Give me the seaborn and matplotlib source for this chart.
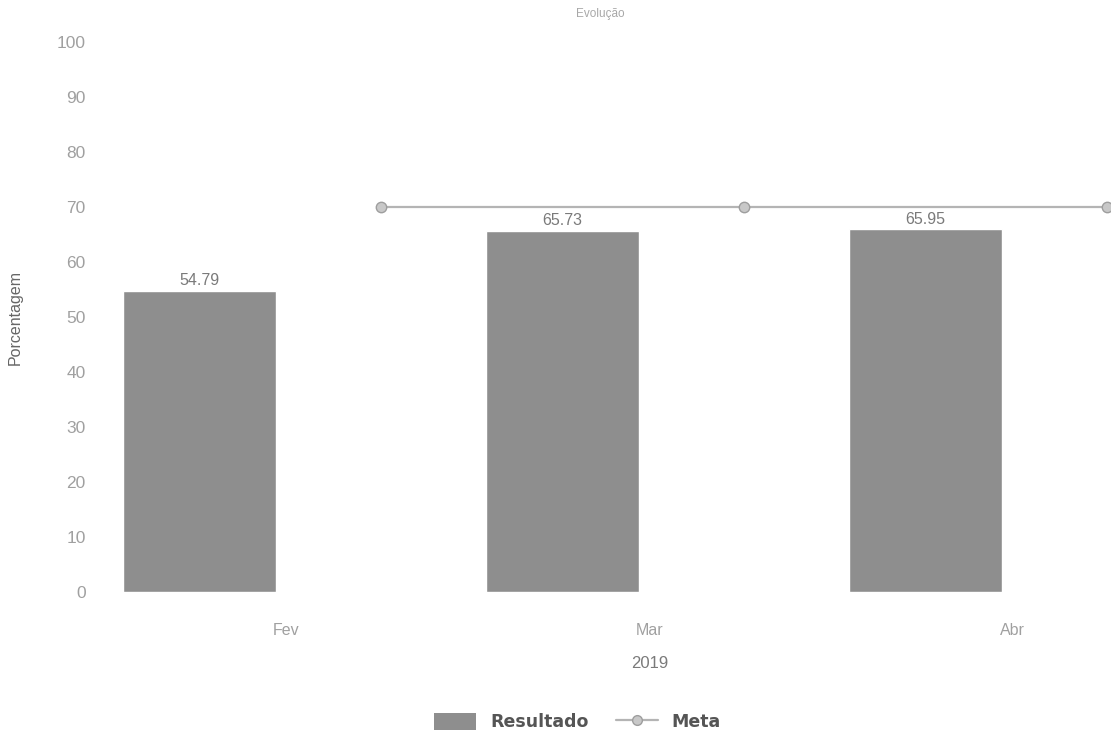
import numpy as np
import pandas as pd
import matplotlib
matplotlib.use("Agg")
import matplotlib.pyplot as plt
import seaborn as sns
from matplotlib.lines import Line2D
from matplotlib.patches import Patch

# Values
months = ["Fev", "Mar", "Abr"]
resultado = [54.79, 65.73, 65.95]
meta = [70, 70, 70]

sns.set_style("white")
plt.rcParams['font.family'] = ['Liberation Sans', 'DejaVu Sans']

pos = np.arange(len(months))
bars = pd.DataFrame({"x": pos - 0.24, "valor": resultado})
linha = pd.DataFrame({"x": pos + 0.26, "valor": meta})

fig = plt.figure(figsize=(11.11, 7.45), dpi=100)
ax = fig.add_axes([0.0945, 0.2054, 0.905, 0.738])

sns.barplot(data=bars, x="x", y="valor", native_scale=True, width=0.42,
            color="#8e8e8e", saturation=1, ax=ax)
sns.lineplot(data=linha, x="x", y="valor", color="#b4b4b4", linewidth=1.6,
             marker="o", markersize=7.5, markerfacecolor="#c8c8c8",
             markeredgecolor="#9e9e9e", markeredgewidth=1.0, ax=ax, clip_on=False)

for xb, v in zip(bars["x"], resultado):
    ax.text(xb, v + 0.5, f"{v:.2f}", ha="center", va="bottom",
            fontsize=11.5, color="#7a7a7a")

ax.set_xlim(-0.5, 2.27)
ax.set_ylim(0, 100)
ax.set_xticks(pos)
ax.set_xticklabels(months)
ax.set_yticks(range(0, 101, 10))
ax.tick_params(axis="x", length=0, pad=22, labelsize=11.5, labelcolor="#a0a0a0")
ax.tick_params(axis="y", length=0, pad=14, labelsize=12.5, labelcolor="#a0a0a0")
sns.despine(ax=ax, left=True, bottom=True)

ax.set_ylabel("Porcentagem", fontsize=11.5, color="#666666", labelpad=24)
ax.set_xlabel("2019", fontsize=12, color="#7a7a7a", va="center")
ax.xaxis.set_label_coords((1 + 0.5) / 2.77, -72 / 550)
fig.text(0.54, 0.981, "Evolução", ha="center", va="center", fontsize=8.5, color="#a8a8a8")

handles = [Patch(facecolor="#8e8e8e", edgecolor="none"),
           Line2D([0], [0], color="#b4b4b4", linewidth=1.6, marker="o", markersize=7,
                  markerfacecolor="#c8c8c8", markeredgecolor="#9e9e9e")]
fig.legend(handles, ["Resultado", "Meta"], loc="center", bbox_to_anchor=(0.52, 0.031),
           ncol=2, frameon=False, handlelength=2.4, handleheight=1.2, columnspacing=1.6,
           prop={"family": "DejaVu Sans", "weight": "bold", "size": 12.5},
           labelcolor="#555555")

fig.savefig("out.png", dpi=100)
